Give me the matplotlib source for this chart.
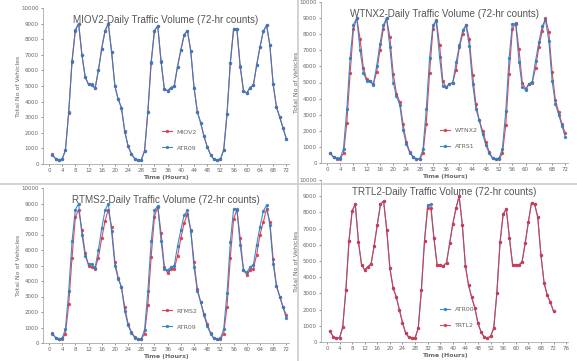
import matplotlib
matplotlib.use("Agg")
import matplotlib.pyplot as plt
from matplotlib.lines import Line2D

hours = list(range(1, 73))

atr09_a = [600, 350, 280, 300, 900, 3350, 6550, 8600, 9000, 7000, 5600, 5100, 5100, 4850,
           6000, 7400, 8550, 9000, 7200, 5000, 4150, 3600, 2050, 1150, 650, 350, 250, 250,
           850, 3350, 6550, 8550, 8850, 6600, 4800, 4700, 4900, 5000, 6250, 7300, 8250, 8550,
           7250, 4900, 3350, 2650, 1800, 1100, 600, 300, 250, 300, 900, 3200, 6500, 8650,
           8650, 6300, 4700, 4550, 4900, 5050, 6350, 7500, 8500, 8900, 7600, 5100, 3650, 3000,
           2300, 1600]
miov2 = [620, 340, 270, 310, 880, 3300, 6600, 8550, 9000, 7000, 5550, 5100, 5050, 4850,
         6000, 7400, 8500, 9000, 7200, 5000, 4150, 3600, 2100, 1150, 650, 350, 250, 250,
         850, 3350, 6500, 8550, 8850, 6550, 4800, 4700, 4900, 5000, 6250, 7300, 8300, 8550,
         7250, 4900, 3350, 2650, 1800, 1100, 600, 300, 250, 300, 900, 3200, 6450, 8650,
         8650, 6200, 4700, 4550, 4900, 5050, 6350, 7500, 8500, 8900, 7600, 5100, 3650, 3000,
         2300, 1600]

atrs1 = atr09_a
wtnx2 = [650, 350, 250, 250, 600, 2500, 5600, 8300, 9000, 7700, 5900, 5200, 5100, 4900,
         5650, 7000, 8300, 9000, 7800, 5550, 4300, 3800, 2400, 1300, 700, 400, 250, 250,
         600, 2450, 5600, 8300, 8900, 7350, 5100, 4700, 4900, 5000, 5800, 7200, 8000, 8600,
         7700, 5450, 3650, 2650, 2000, 1300, 700, 300, 250, 250, 600, 2350, 5550, 8300,
         8700, 7050, 5000, 4600, 4900, 5000, 5900, 7200, 8200, 9000, 8150, 5650, 3900, 3150,
         2400, 1850]

atr09_c = atr09_a
rtms2 = [650, 350, 250, 250, 600, 2500, 5500, 8100, 8600, 7300, 5800, 5000, 4900, 4800,
         5500, 6750, 7850, 8600, 7500, 5250, 4200, 3600, 2300, 1250, 700, 400, 250, 250,
         600, 2450, 5550, 8150, 8800, 7100, 4900, 4500, 4750, 4800, 5600, 6750, 7750, 8300,
         7300, 5250, 3500, 2650, 1900, 1250, 650, 300, 250, 250, 600, 2350, 5500, 8000,
         8600, 6750, 4700, 4400, 4700, 4800, 5700, 7000, 7800, 8650, 7800, 5400, 3700, 3000,
         2300, 1800]

atr00 = [650, 320, 250, 250, 920, 3200, 6250, 8100, 8500, 6200, 4750, 4450, 4650, 4800,
         5950, 7250, 8500, 8700, 6900, 4550, 3350, 2800, 2000, 1200, 550, 300, 250, 250,
         850, 3200, 6250, 8450, 8500, 6400, 4750, 4750, 4700, 4900, 6100, 7300, 8250, 9000,
         7250, 4700, 3500, 2750, 2100, 1150, 600, 300, 250, 350, 850, 3050, 6150, 7900,
         8200, 6400, 4750, 4750, 4750, 4950, 6100, 7400, 8600, 8500, 7700, 5350, 3650, 2900,
         2450, 1900]
trtl2 = [650, 320, 250, 250, 920, 3200, 6250, 8100, 8500, 6200, 4750, 4450, 4650, 4800,
         5950, 7250, 8500, 8700, 6900, 4550, 3350, 2800, 2000, 1200, 550, 300, 250, 250,
         850, 3200, 6250, 8250, 8250, 6400, 4750, 4750, 4700, 4900, 6100, 7300, 8250, 9000,
         7250, 4700, 3500, 2750, 2100, 1150, 600, 300, 250, 350, 850, 3050, 6150, 7900,
         8200, 6400, 4750, 4750, 4750, 4950, 6100, 7400, 8600, 8500, 7700, 5350, 3650, 2900,
         2450, 1900]

titles = ["MIOV2-Daily Traffic Volume (72-hr counts)",
          "WTNX2-Daily Traffic Volume (72-hr counts)",
          "RTMS2-Daily Traffic Volume (72-hr counts)",
          "TRTL2-Daily Traffic Volume (72-hr counts)"]
xticks_72 = list(range(0, 73, 4))
xticks_76 = list(range(0, 77, 4))
yticks = list(range(0, 10001, 1000))

RED = "#d9374a"
BLUE = "#2f7fc1"
GRAY = "#666666"

W, H = 577, 361
fig = plt.figure(figsize=(W / 100, H / 100), dpi=100)

def rect(x0, x1, ytop, ybot):
    return [x0 / W, 1 - ybot / H, (x1 - x0) / W, (ybot - ytop) / H]

panels = [
    (rect(43, 289, 8, 164), (-1.8, 72.8), xticks_72,
     [("MIOV2", miov2, RED), ("ATR09", atr09_a, BLUE)], ["MIOV2", "ATR09"]),
    (rect(321, 568, 2, 163), (-1.8, 72.8), xticks_72,
     [("WTNX2", wtnx2, RED), ("ATRS1", atrs1, BLUE)], ["WTNX2", "ATRS1"]),
    (rect(43, 289, 188, 343), (-1.8, 72.8), xticks_72,
     [("RTMS2", rtms2, RED), ("ATR09", atr09_c, BLUE)], ["RTMS2", "ATR09"]),
    (rect(321, 568, 180, 342), (-1.9, 76.6), xticks_76,
     [("ATR00", atr00, BLUE), ("TRTL2", trtl2, RED)], ["ATR00", "TRTL2"]),
]

for (r, xl, xt, series, order), title in zip(panels, titles):
    ax = fig.add_axes(r)
    handles = {}
    for name, vals, col in series:
        h, = ax.plot(hours, vals, color=col, lw=0.8, marker="o", ms=2.4,
                     markeredgewidth=0, label=name, alpha=0.9)
        handles[name] = h
    ax.set_xlim(*xl)
    ax.set_ylim(0, 10000)
    ax.set_xticks(xt)
    ax.set_yticks(yticks)
    ax.tick_params(labelsize=4, colors=GRAY, length=1.5, width=0.5, pad=1.5)
    for s in ["top", "right"]:
        ax.spines[s].set_visible(False)
    for s in ["left", "bottom"]:
        ax.spines[s].set_color("#aaaaaa")
        ax.spines[s].set_linewidth(0.6)
    ax.set_ylabel("Total No of Vehicles", fontsize=4.5, color=GRAY, labelpad=0.5)
    ax.set_xlabel("Time (Hours)", fontsize=4.5, color=GRAY, fontweight="bold", labelpad=1)
    ax.text(0.5, 0.955, title, transform=ax.transAxes, ha="center", va="top",
            fontsize=7.1, color="#555555", family="Liberation Sans")
    ax.legend([handles[n] for n in order], order, loc="lower left",
              bbox_to_anchor=(0.46, 0.05), frameon=False, fontsize=4.5,
              handlelength=1.6, labelspacing=1.7, labelcolor=GRAY)

fig.add_artist(Line2D([298 / W, 298 / W], [0, 1], color="#cccccc", lw=1.2,
                      transform=fig.transFigure))
fig.add_artist(Line2D([0, 1], [1 - 184 / H, 1 - 184 / H], color="#cccccc", lw=1.2,
                      transform=fig.transFigure))

fig.savefig("out.png", dpi=100)
